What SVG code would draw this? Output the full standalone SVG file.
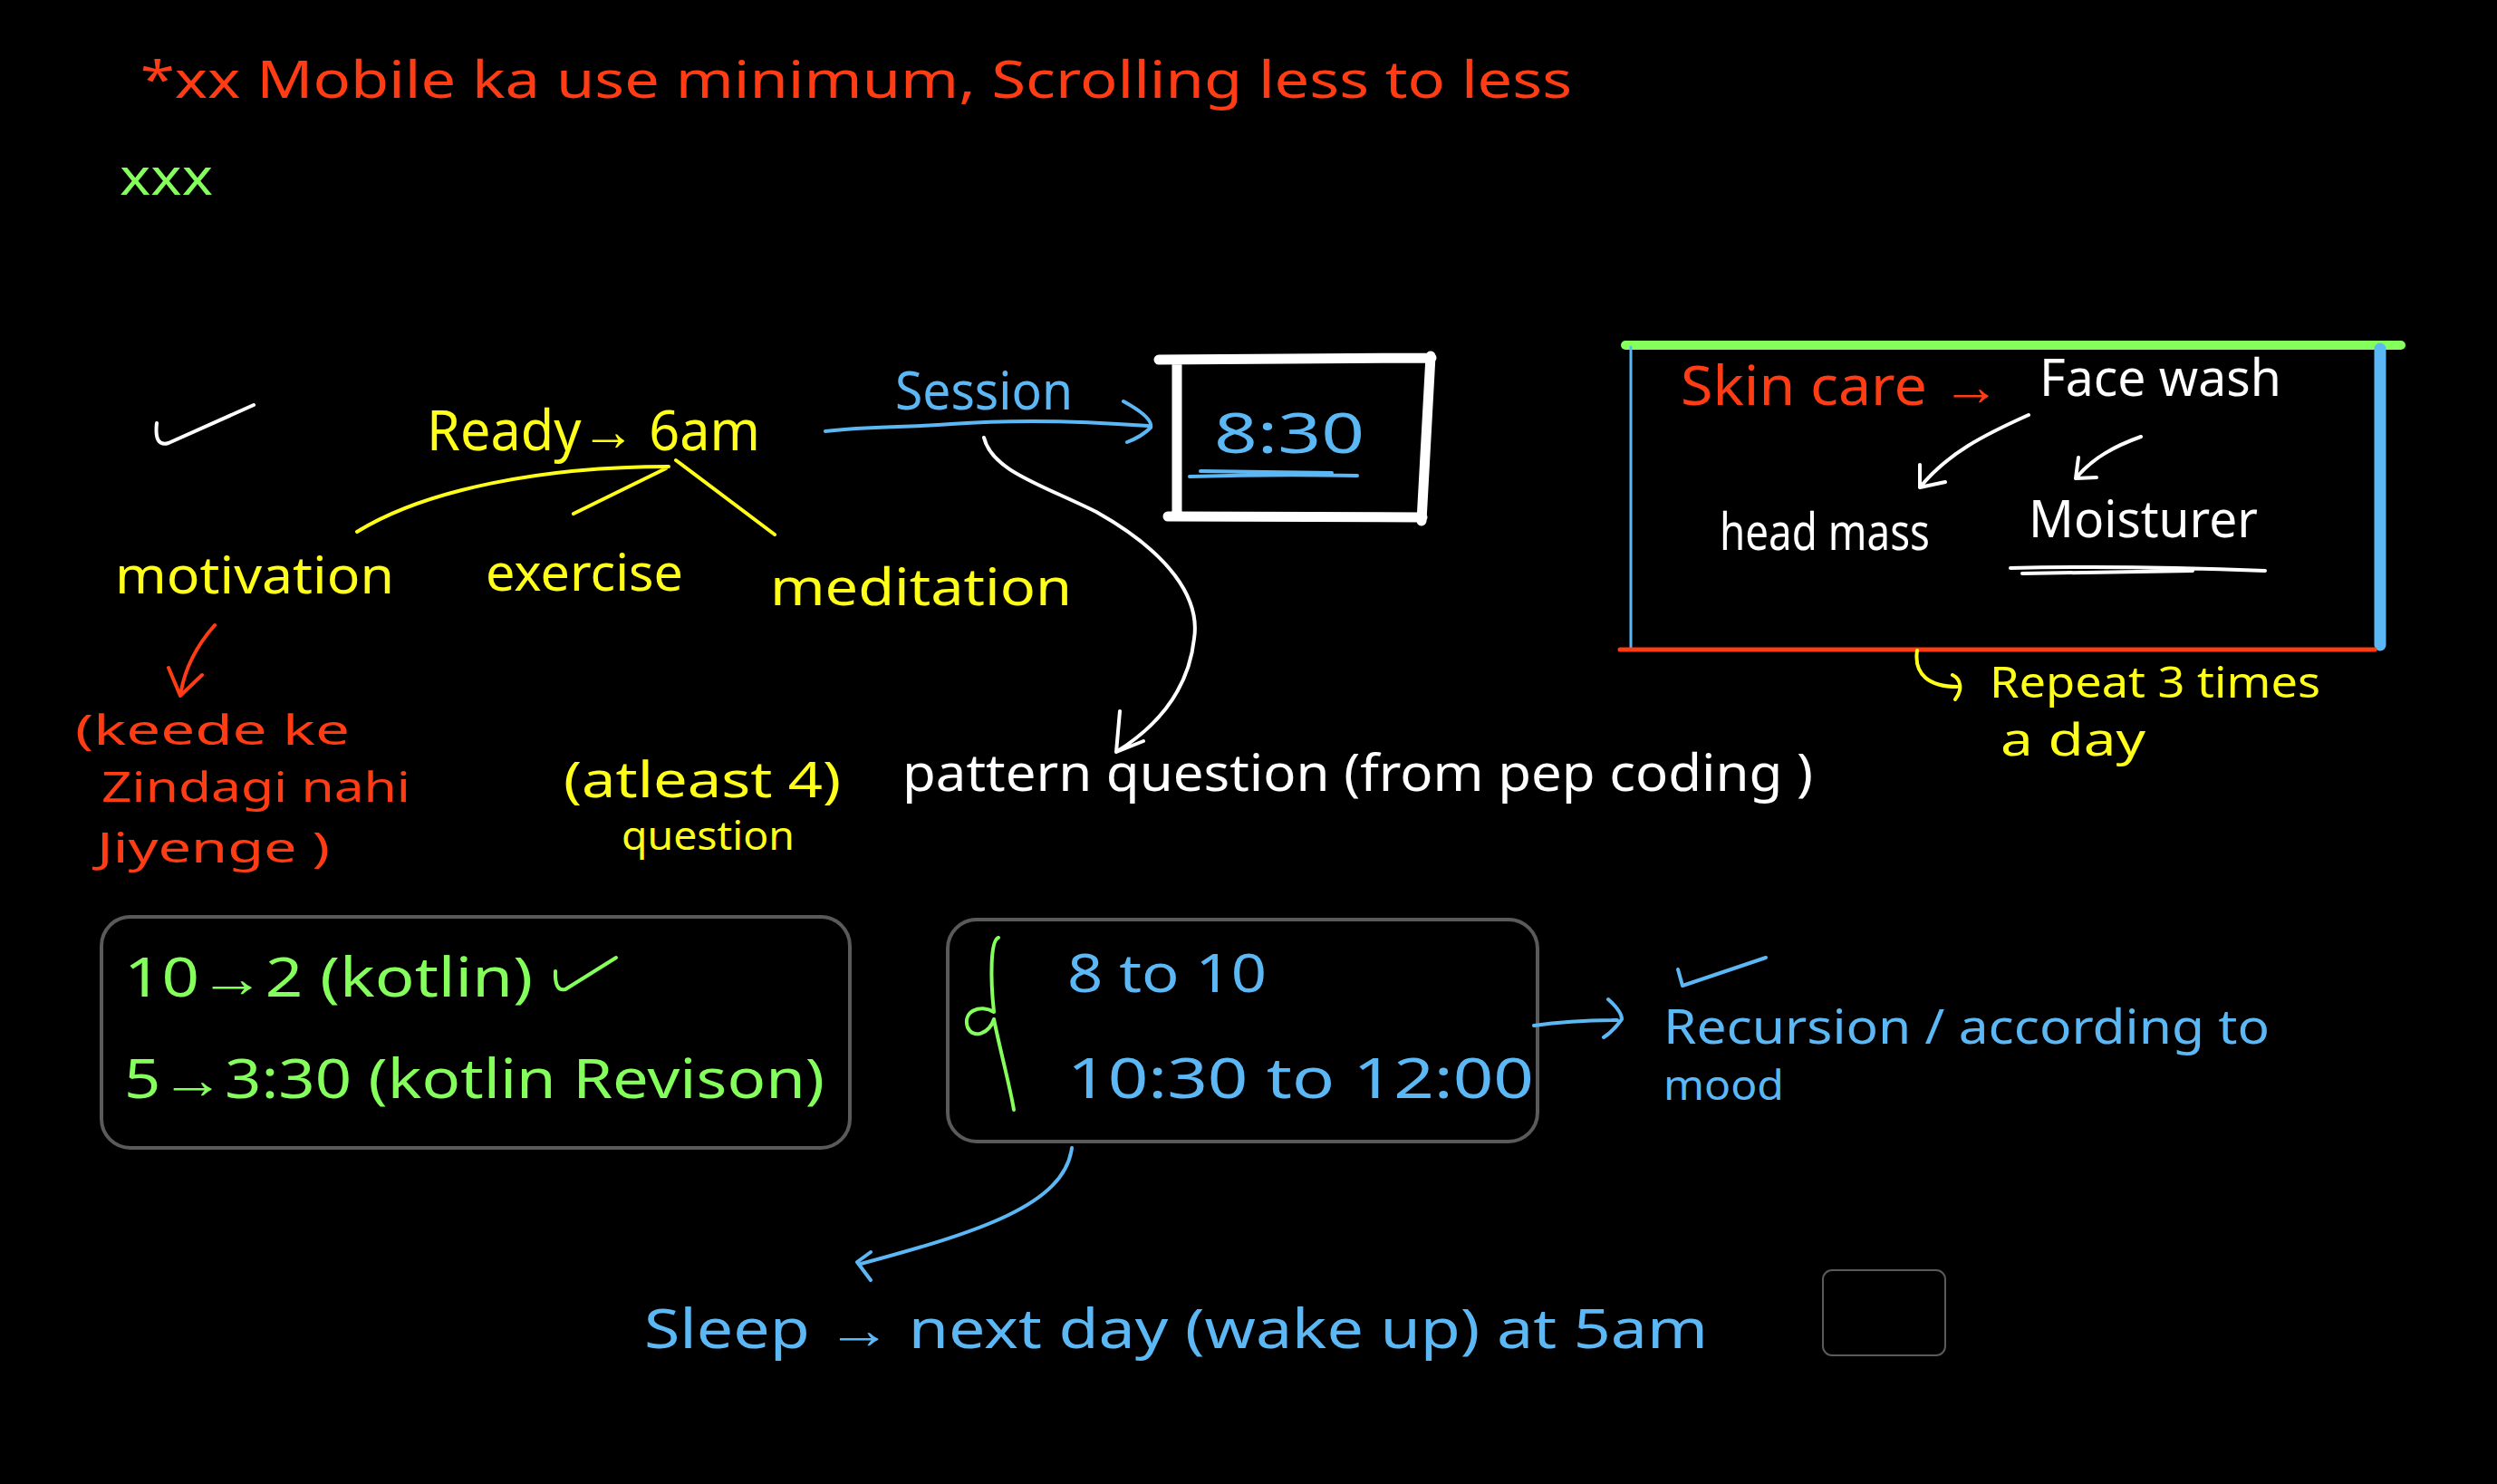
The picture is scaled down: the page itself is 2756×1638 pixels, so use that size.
<svg xmlns="http://www.w3.org/2000/svg" width="2756" height="1638" viewBox="0 0 2756 1638">
<style>
text{font-family:"Noto Sans","Liberation Sans",sans-serif;font-weight:400}
.r{fill:#ff3c14}.y{fill:#ffff1a}.g{fill:#85ff5c}.b{fill:#5cb8f5}.w{fill:#ffffff}
.ln{fill:none;stroke-linecap:round;stroke-linejoin:round}
.sw{stroke:#ffffff;stroke-width:4}
.sy{stroke:#ffff1a;stroke-width:4}
.sr{stroke:#ff3c14;stroke-width:4}
.sb{stroke:#5cb8f5;stroke-width:4}
.sg{stroke:#85ff5c;stroke-width:4}
.box{fill:none;stroke:#5a5a5a;stroke-width:4}
</style>
<rect x="0" y="0" width="2756" height="1638" fill="#000000"/>

<g id="title"><text class="r" x="155" y="108" font-size="56" textLength="1580" lengthAdjust="spacingAndGlyphs">*xx Mobile ka use minimum, Scrolling less to less</text></g>
<g id="xxx"><text class="g" x="132" y="215" font-size="56" textLength="103" lengthAdjust="spacingAndGlyphs">xxx</text></g>
<g id="check-top"><path class="ln sw" d="M173,467 Q170,494 186,489 L280,447"/></g>

<g id="ready"><text class="y" x="471" y="497" font-size="62" textLength="368" lengthAdjust="spacingAndGlyphs">Ready→ 6am</text></g>
<g id="motivation"><text class="y" x="127" y="655" font-size="56" textLength="308" lengthAdjust="spacingAndGlyphs">motivation</text></g>
<g id="exercise"><text class="y" x="536" y="652" font-size="56" textLength="218" lengthAdjust="spacingAndGlyphs">exercise</text></g>
<g id="meditation"><text class="y" x="850" y="668" font-size="56" textLength="333" lengthAdjust="spacingAndGlyphs">meditation</text></g>

<g id="keede">
<text class="r" x="83" y="822" font-size="46" textLength="303" lengthAdjust="spacingAndGlyphs">(keede ke</text>
<text class="r" x="112" y="885" font-size="46" textLength="341" lengthAdjust="spacingAndGlyphs">Zindagi nahi</text>
<text class="r" x="107" y="952" font-size="46" textLength="257" lengthAdjust="spacingAndGlyphs">Jiyenge )</text>
</g>

<g id="session"><text class="b" x="988" y="452" font-size="58" textLength="196" lengthAdjust="spacingAndGlyphs">Session</text></g>

<g id="time-830">
<path class="ln" stroke="#ffffff" stroke-width="11" d="M1279,397 L1580,395 M1299,397 L1299,570 M1289,570 L1570,571 M1579,393 L1569,575"/>
<text class="b" x="1340" y="500" font-size="62" textLength="166" lengthAdjust="spacingAndGlyphs">8:30</text>
<path class="ln sb" stroke-width="3" d="M1313,526 C1380,524 1440,524 1498,525 M1325,520 L1470,522"/>
</g>

<g id="skincare">
<path class="ln" stroke="#85ff5c" stroke-width="10" d="M1794,381 L2650,381"/>
<path class="ln" stroke="#5cb8f5" stroke-width="3" d="M1800,383 L1800,717"/>
<path class="ln" stroke="#5cb8f5" stroke-width="13" d="M2627,385 L2627,712"/>
<path class="ln" stroke="#ff3c14" stroke-width="5" d="M1788,717 L2621,717"/>
<text class="r" x="1855" y="447" font-size="60" textLength="353" lengthAdjust="spacingAndGlyphs">Skin care →</text>
<text class="w" x="2251" y="437" font-size="56" textLength="267" lengthAdjust="spacingAndGlyphs">Face wash</text>
<text class="w" x="1898" y="607" font-size="56" textLength="232" lengthAdjust="spacingAndGlyphs">head mass</text>
<text class="w" x="2239" y="593" font-size="56" textLength="253" lengthAdjust="spacingAndGlyphs">Moisturer</text>
<path class="ln sw" stroke-width="3" d="M2219,627 C2300,625 2400,626 2500,630 M2232,633 L2420,630"/>
</g>

<g id="repeat">
<text class="y" x="2196" y="770" font-size="48" textLength="365" lengthAdjust="spacingAndGlyphs">Repeat 3 times</text>
<text class="y" x="2208" y="834" font-size="50" textLength="160" lengthAdjust="spacingAndGlyphs">a day</text>
</g>

<g id="atleast">
<text class="y" x="622" y="880" font-size="54" textLength="306" lengthAdjust="spacingAndGlyphs">(atleast 4)</text>
<text class="y" x="686" y="938" font-size="44" textLength="191" lengthAdjust="spacingAndGlyphs">question</text>
</g>
<g id="pattern"><text class="w" x="996" y="873" font-size="56" textLength="1005" lengthAdjust="spacingAndGlyphs">pattern question (from pep coding )</text></g>

<g id="kotlin-box">
<rect class="box" x="112" y="1012" width="826" height="255" rx="32"/>
<text class="g" x="137" y="1100" font-size="60" textLength="451" lengthAdjust="spacingAndGlyphs">10→2 (kotlin)</text>
<path class="ln sg" d="M613,1072 Q612,1095 624,1092 L680,1057"/>
<text class="g" x="137" y="1212" font-size="60" textLength="773" lengthAdjust="spacingAndGlyphs">5→3:30 (kotlin Revison)</text>
</g>

<g id="schedule-box">
<rect class="box" x="1046" y="1015" width="651" height="245" rx="32"/>
<path class="ln sg" d="M1102,1035 C1093,1038 1093,1080 1097,1117 C1082,1108 1062,1116 1068,1134 C1075,1148 1092,1140 1097,1125 C1104,1160 1115,1200 1119,1225"/>
<text class="b" x="1178" y="1095" font-size="58" textLength="220" lengthAdjust="spacingAndGlyphs">8 to 10</text>
<text class="b" x="1178" y="1212" font-size="62" textLength="515" lengthAdjust="spacingAndGlyphs">10:30 to 12:00</text>
</g>

<g id="recursion">
<path class="ln sb" d="M1852,1070 L1857,1088 L1949,1057"/>
<text class="b" x="1836" y="1152" font-size="52" textLength="669" lengthAdjust="spacingAndGlyphs">Recursion / according to</text>
<text class="b" x="1836" y="1214" font-size="46" textLength="133" lengthAdjust="spacingAndGlyphs">mood</text>
</g>

<g id="sleep"><text class="b" x="711" y="1488" font-size="60" textLength="1174" lengthAdjust="spacingAndGlyphs">Sleep → next day (wake up) at 5am</text></g>

<g id="empty-box"><rect x="2012" y="1402" width="135" height="94" rx="10" fill="none" stroke="#5a5a5a" stroke-width="2"/></g>

<g id="connectors">
<path class="ln sy" d="M394,587 C470,540 600,515 738,515 M633,567 L735,517 M746,508 L855,590"/>
<path class="ln sr" d="M237,690 C215,715 203,740 199,768 M186,737 L199,768 L223,745"/>
<path class="ln sb" d="M911,476 C960,470 1000,472 1050,468 C1130,462 1200,465 1267,470 M1240,443 C1262,455 1272,465 1270,472 C1262,480 1252,485 1244,488"/>
<path class="ln sw" d="M1086,483 C1095,520 1150,535 1210,565 C1290,610 1325,660 1318,705 C1312,760 1280,800 1232,830 M1236,785 L1232,830 L1262,818"/>
<path class="ln sw" d="M2239,458 C2190,480 2150,500 2119,538 M2119,513 L2119,538 L2147,532"/>
<path class="ln sw" d="M2363,482 C2335,492 2310,505 2291,528 M2294,505 L2291,528 L2314,527"/>
<path class="ln sy" d="M2116,718 C2112,745 2130,758 2160,758 M2155,745 C2165,750 2166,762 2158,772"/>
<path class="ln sb" d="M1693,1132 C1720,1128 1760,1126 1785,1126 M1775,1103 C1785,1112 1790,1120 1790,1125 C1785,1132 1778,1140 1770,1145"/>
<path class="ln sb" stroke-width="6" d="M1183,1267 C1175,1330 1080,1360 950,1395 M961,1382 L946,1393 L961,1413"/>
</g>
</svg>
